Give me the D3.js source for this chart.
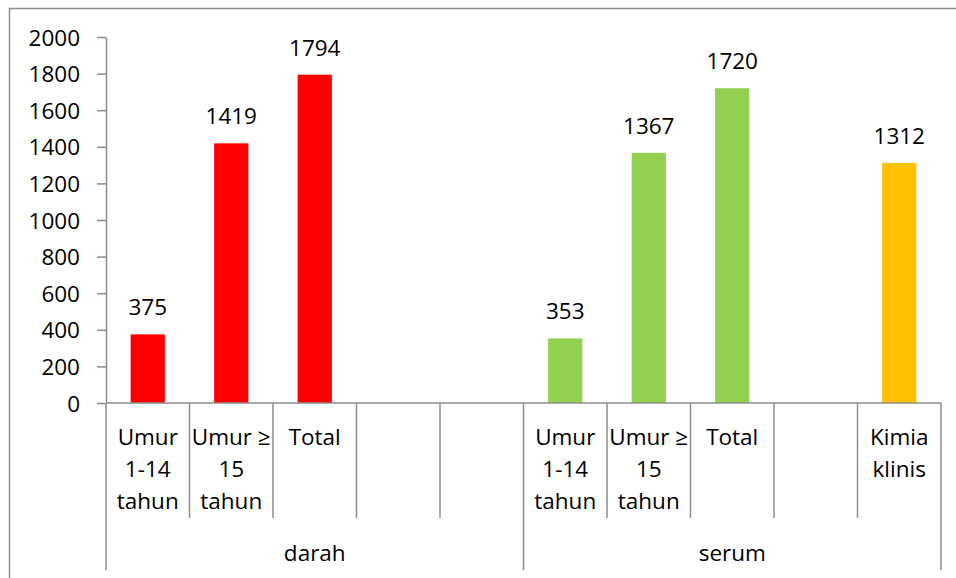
<!DOCTYPE html>
<html>
<head>
<meta charset="utf-8">
<script src="https://cdn.jsdelivr.net/npm/d3@7"></script>
<style>
  html, body { margin: 0; padding: 0; background: #fff; }
  svg { display: block; }
  text { font-family: "Open Sans", sans-serif; fill: #000; }
</style>
</head>
<body>
<svg id="chart" width="956" height="578"></svg>
<script>
const groups = ["darah", "serum"];
const groupSize = 5;
const categories = ["Umur 1-14 tahun", "Umur ≥ 15 tahun", "Total", "", "",
                    "Umur 1-14 tahun", "Umur ≥ 15 tahun", "Total", "", "Kimia klinis"];
const values = [375, 1419, 1794, null, null, 353, 1367, 1720, null, 1312];
const barColors = ["#FF0000", "#FF0000", "#FF0000", null, null,
                   "#92D050", "#92D050", "#92D050", null, "#FFC000"];
const yTicks = [0, 200, 400, 600, 800, 1000, 1200, 1400, 1600, 1800, 2000];

const svg = d3.select("#chart");
const axisColor = "#8c8c8c";
const fontSize = 22.5;

// outer border
svg.append("rect")
  .attr("x", 9.5).attr("y", 8.5).attr("width", 980).attr("height", 620)
  .attr("fill", "none").attr("stroke", axisColor).attr("stroke-width", 1.5);

const x = d3.scaleBand().domain(d3.range(categories.length)).range([106, 941]).padding(0);
const y = d3.scaleLinear().domain([0, 2000]).range([403, 37]);
const bw = x.bandwidth();

// y axis
const yAxis = d3.axisLeft(y).tickValues(yTicks).tickFormat(d3.format("d"))
  .tickSize(9).tickPadding(17).tickSizeOuter(0);
const gy = svg.append("g").attr("transform", "translate(106,0)").call(yAxis);
gy.select(".domain").attr("stroke", axisColor).attr("stroke-width", 1.5);
gy.selectAll(".tick line").attr("stroke", axisColor).attr("stroke-width", 1.5);
gy.selectAll(".tick text").style("font-family", "'Open Sans', sans-serif")
  .style("font-size", fontSize + "px").attr("fill", "#000").attr("dy", "0.36em");

// bars
const barW = bw * 0.41;
const data = values.map((v, i) => ({ i, v, c: barColors[i] })).filter(d => d.v != null);
svg.append("g").selectAll("rect").data(data).join("rect")
  .attr("x", d => x(d.i) + (bw - barW) / 2)
  .attr("y", d => y(d.v))
  .attr("width", barW)
  .attr("height", d => y(0) - y(d.v))
  .attr("fill", d => d.c);

// value labels
svg.append("g").selectAll("text").data(data).join("text")
  .attr("x", d => x(d.i) + bw / 2)
  .attr("y", d => y(d.v) - 19)
  .attr("text-anchor", "middle")
  .style("font-size", fontSize + "px")
  .text(d => d.v);

// x axis baseline
svg.append("line").attr("x1", 106).attr("x2", 941).attr("y1", 403).attr("y2", 403)
  .attr("stroke", axisColor).attr("stroke-width", 1.5);

// category dividers
const bounds = d3.range(categories.length + 1);
svg.append("g").selectAll("line").data(bounds).join("line")
  .attr("x1", i => 106 + i * bw).attr("x2", i => 106 + i * bw)
  .attr("y1", 403)
  .attr("y2", i => (i % groupSize === 0) ? 570 : 518)
  .attr("stroke", axisColor).attr("stroke-width", 1.5);

// category labels with wrapping
const catG = svg.append("g");
categories.forEach((c, i) => {
  if (!c) return;
  const t = catG.append("text")
    .attr("x", x(i) + bw / 2).attr("y", 445)
    .attr("text-anchor", "middle")
    .style("font-size", fontSize + "px");
  const words = c.split(" ");
  let lines = [];
  let line = [];
  const probe = t.append("tspan");
  words.forEach(w => {
    const test = line.concat([w]).join(" ");
    probe.text(test);
    if (line.length && probe.node().getComputedTextLength() > bw - 3) {
      lines.push(line.join(" "));
      line = [w];
    } else {
      line.push(w);
    }
  });
  lines.push(line.join(" "));
  probe.remove();
  lines.forEach((l, k) => {
    t.append("tspan").attr("x", x(i) + bw / 2).attr("dy", k === 0 ? 0 : 32).text(l);
  });
});

// group labels
groups.forEach((g, gi) => {
  const x0 = x(gi * groupSize);
  const x1 = x(gi * groupSize + groupSize - 1) + bw;
  svg.append("text").attr("x", (x0 + x1) / 2).attr("y", 561)
    .attr("text-anchor", "middle").style("font-size", fontSize + "px").text(g);
});
</script>
</body>
</html>
